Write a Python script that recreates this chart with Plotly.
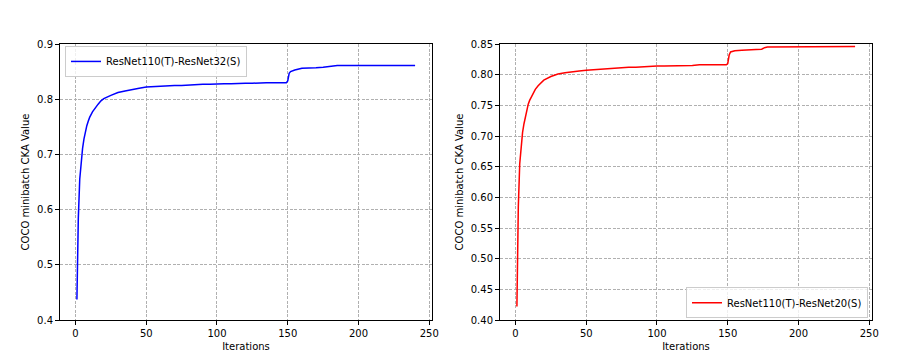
import plotly.graph_objects as go
from plotly.subplots import make_subplots

# ResNet110(T)-ResNet32(S)
iters_left = [1, 2, 3, 4, 5, 6, 7, 8, 9, 10, 12, 14, 16, 18, 20, 25, 30, 35, 40, 45,
              50, 55, 60, 65, 70, 75, 80, 85, 90, 95, 100, 105, 110, 115, 120, 125,
              130, 135, 140, 145, 149, 150, 151, 152, 155, 160, 165, 170, 175,
              180, 185, 190, 195, 200, 205, 210, 215, 220, 225, 230, 235, 240]
cka_left = [0.437, 0.585, 0.655, 0.690, 0.711, 0.728, 0.742, 0.752, 0.760, 0.767,
            0.777, 0.785, 0.791, 0.797, 0.801, 0.807, 0.812, 0.815, 0.818, 0.820,
            0.822, 0.823, 0.823, 0.824, 0.825, 0.825, 0.826, 0.826, 0.827, 0.827,
            0.828, 0.828, 0.828, 0.829, 0.829, 0.829, 0.830, 0.830, 0.830, 0.830,
            0.830, 0.833, 0.847, 0.850, 0.853, 0.856, 0.856, 0.857, 0.858,
            0.860, 0.861, 0.861, 0.861, 0.862, 0.861, 0.861, 0.862, 0.862, 0.861,
            0.862, 0.861, 0.861]

# ResNet110(T)-ResNet20(S)
iters_right = [1, 2, 3, 4, 5, 6, 7, 8, 9, 10, 12, 14, 16, 18, 20, 25, 30, 35, 40, 45,
               50, 55, 60, 65, 70, 75, 80, 85, 90, 95, 100, 105, 110, 115, 120, 125,
               130, 135, 140, 145, 149, 150, 151, 152, 155, 160, 165, 170, 174, 176,
               178, 180, 185, 190, 195, 200, 205, 210, 215, 220, 225, 230, 235, 240]
cka_right = [0.422, 0.585, 0.655, 0.688, 0.706, 0.720, 0.732, 0.744, 0.752, 0.758,
             0.768, 0.776, 0.782, 0.787, 0.791, 0.797, 0.801, 0.803, 0.805, 0.806,
             0.807, 0.808, 0.809, 0.810, 0.810, 0.811, 0.812, 0.812, 0.813, 0.813,
             0.814, 0.814, 0.814, 0.815, 0.815, 0.815, 0.816, 0.816, 0.816, 0.816,
             0.816, 0.818, 0.832, 0.837, 0.839, 0.840, 0.841, 0.841, 0.8415, 0.844,
             0.845, 0.845, 0.845, 0.846, 0.845, 0.846, 0.846, 0.846, 0.845, 0.846,
             0.846, 0.845, 0.846, 0.846]

W, H = 920, 360
OFF = 8  # page body margin, shift everything back by it
FONT = "DejaVu Sans"

fig = make_subplots(rows=1, cols=2)

fig.add_trace(go.Scatter(x=iters_left, y=cka_left, mode="lines",
                         line=dict(color="#0000ff", width=1.5),
                         name="ResNet110(T)-ResNet32(S)", legend="legend",
                         showlegend=True),
              row=1, col=1)
fig.add_trace(go.Scatter(x=iters_right, y=cka_right, mode="lines",
                         line=dict(color="#ff0000", width=1.5),
                         name="ResNet110(T)-ResNet20(S)", legend="legend2",
                         showlegend=True),
              row=1, col=2)

axis_style = dict(
    showline=True, linecolor="black", linewidth=1, mirror=True,
    ticks="outside", ticklen=4, tickcolor="black",
    showgrid=True, gridcolor="#b0b0b0", griddash="3px,1.5px", gridwidth=0.8,
    zeroline=False, automargin=False,
    tickfont=dict(family=FONT, size=10, color="black"),
)
title_font = dict(family=FONT, size=10, color="black")

for c in (1, 2):
    fig.update_xaxes(axis_style, range=[-10.95, 251.95], tickvals=[0, 50, 100, 150, 200, 250],
                     title=dict(text="Iterations", font=title_font, standoff=4),
                     row=1, col=c)

fig.update_yaxes(axis_style, range=[0.4, 0.9], tickvals=[0.4, 0.5, 0.6, 0.7, 0.8, 0.9],
                 tickformat=".1f",
                 title=dict(text="COCO minibatch CKA Value", font=title_font, standoff=5),
                 row=1, col=1)
fig.update_yaxes(axis_style, range=[0.4, 0.85],
                 tickvals=[0.40, 0.45, 0.50, 0.55, 0.60, 0.65, 0.70, 0.75, 0.80, 0.85],
                 tickformat=".2f",
                 title=dict(text="COCO minibatch CKA Value", font=title_font, standoff=5),
                 row=1, col=2)

legend_style = dict(bgcolor="rgba(255,255,255,0.8)", bordercolor="#cccccc", borderwidth=1,
                    font=dict(family=FONT, size=10, color="black"), itemwidth=30)

fig.update_layout(
    width=W, height=H,
    margin=dict(l=0, r=0, t=44 - OFF, b=H - (320 - OFF)),
    paper_bgcolor="white", plot_bgcolor="white",
    xaxis=dict(domain=[(60 - OFF) / W, (432 - OFF) / W]),
    xaxis2=dict(domain=[(500 - OFF) / W, (872 - OFF) / W]),
    font=dict(family=FONT, size=10, color="black"),
    legend=dict(legend_style, x=(65 - OFF) / W, y=0.993, xanchor="left", yanchor="top"),
    legend2=dict(legend_style, x=(868 - OFF) / W, y=0.006, xanchor="right", yanchor="bottom"),
)

fig.write_html("out.html")
